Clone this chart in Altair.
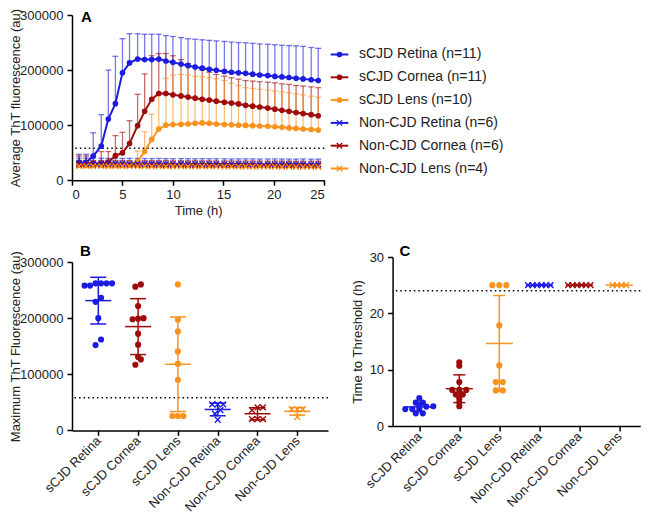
import altair as alt
import numpy as np
import pandas as pd

FONT = "Liberation Sans"
XPATH = "M-1,-1L1,1M-1,1L1,-1"

# ---------------- data ----------------
series_names = ["sCJD Retina", "sCJD Cornea", "sCJD Lens",
                "Non-CJD Retina", "Non-CJD Cornea", "Non-CJD Lens"]
series_n = [11, 11, 10, 6, 6, 4]
series_colors = ["#1c1ce0", "#9e0b0b", "#f7931e", "#1c1ce0", "#9e0b0b", "#f7931e"]
series_marker = ["circle", "circle", "circle", "x", "x", "x"]

threshold_au = 58000
threshold_h = 24

time_h = [0.7, 1.4, 2.1, 2.9, 3.6, 4.3, 5.0, 5.7, 6.5, 7.2, 7.9, 8.6, 9.3, 10.0,
          10.8, 11.5, 12.2, 12.9, 13.6, 14.3, 15.1, 15.8, 16.5, 17.2, 17.9, 18.6,
          19.4, 20.1, 20.8, 21.5, 22.2, 22.9, 23.7, 24.4]

mean_scjd_retina = [32000, 32000, 44000, 62000, 111000, 139000, 195000, 213000, 220000,
                    219000, 219000, 220000, 216500, 214000, 211000, 208000, 205500, 203500,
                    201500, 199500, 197500, 196000, 195000, 194000, 192500, 191000, 190000,
                    188500, 187500, 186500, 185000, 184000, 182500, 181000]
sd_scjd_retina = [15000, 15000, 42000, 57000, 89000, 86000, 62000, 53000, 46000, 46000,
                  46000, 45000, 46000, 47000, 48000, 49000, 50500, 51500, 52500, 53500,
                  54500, 55000, 55000, 55500, 56000, 56500, 57000, 57500, 57500, 58000,
                  59000, 59000, 58500, 58500]

mean_scjd_cornea = [30000, 30000, 30000, 30000, 33000, 44500, 49500, 66500, 99000, 125000,
                    147000, 157500, 157500, 155000, 153000, 151000, 149000, 147000, 145500,
                    143500, 141500, 140000, 138500, 136000, 134500, 133000, 131000, 129000,
                    127000, 125000, 123000, 121000, 119000, 117000]
sd_scjd_cornea = [14000, 14000, 14000, 22000, 19000, 36500, 37500, 41500, 57000, 68000,
                  79000, 72500, 72500, 71000, 66000, 61000, 57000, 53000, 50500, 48500,
                  47500, 46000, 45000, 45000, 45500, 46000, 47000, 48000, 48000, 49000,
                  49000, 50000, 50500, 51000]

mean_scjd_lens = [27000, 27000, 27000, 27000, 27000, 27000, 27000, 27500, 34000, 52000,
                  74000, 93000, 100000, 101000, 101500, 102000, 103500, 104000, 103500,
                  102000, 101000, 100500, 100000, 99500, 99000, 98500, 98000, 97000,
                  96000, 95000, 94000, 93000, 92000, 91000]
sd_scjd_lens = [6000, 6000, 6000, 6000, 6000, 6000, 6000, 6500, 19000, 36000, 46000,
                62000, 85000, 90000, 90500, 89000, 85000, 84000, 82500, 82000, 80000,
                75500, 72000, 68500, 67500, 66500, 65500, 65000, 64500, 64000, 63000,
                62000, 60500, 59500]

mean_nc_retina = [30500, 30800, 30600, 30400, 30300, 30500, 30200, 30000, 30100, 29900,
                  29800, 29900, 29700, 29600, 29800, 29500, 29400, 29600, 29500, 29300,
                  29400, 29200, 29300, 29100, 29200, 29000, 29100, 29000, 28900, 29000,
                  28800, 28900, 28700, 28800]
sd_nc_retina = [9500, 9400, 9600, 9500, 9300, 9500, 9400, 9600, 9500, 9400, 9500, 9600,
                9500, 9400, 9500, 9600, 9500, 9400, 9500, 9600, 9500, 9400, 9500, 9600,
                9500, 9400, 9500, 9600, 9500, 9400, 9500, 9600, 9500, 9400]

mean_nc_cornea = [27500, 27600, 27400, 27300, 27500, 27200, 27300, 27100, 27200, 27000,
                  27100, 26900, 27000, 26800, 26900, 26700, 26800, 26600, 26700, 26500,
                  26600, 26500, 26400, 26500, 26300, 26400, 26200, 26300, 26100, 26200,
                  26000, 26100, 25900, 26000]
sd_nc_cornea = [8500, 8600, 8400, 8500, 8600, 8500, 8400, 8500, 8600, 8500, 8400, 8500,
                8600, 8500, 8400, 8500, 8600, 8500, 8400, 8500, 8600, 8500, 8400, 8500,
                8600, 8500, 8400, 8500, 8600, 8500, 8400, 8500, 8600, 8500]

mean_nc_lens = [25500, 25600, 25400, 25500, 25300, 25400, 25200, 25300, 25100, 25200,
                25000, 25100, 24900, 25000, 24800, 24900, 24700, 24800, 24600, 24700,
                24500, 24600, 24400, 24500, 24300, 24400, 24200, 24300, 24100, 24200,
                24000, 24100, 23900, 24000]
sd_nc_lens = [7000, 7100, 6900, 7000, 7100, 7000, 6900, 7000, 7100, 7000, 6900, 7000,
              7100, 7000, 6900, 7000, 7100, 7000, 6900, 7000, 7100, 7000, 6900, 7000,
              7100, 7000, 6900, 7000, 7100, 7000, 6900, 7000, 7100, 7000]

# Panel B: maximum ThT fluorescence per sample
max_scjd_retina = [262000, 262000, 262000, 262000, 258000, 258000, 236000, 229000, 200000, 162000, 152000]
max_scjd_cornea = [260000, 256000, 221600, 200000, 199000, 198000, 172300, 152700, 130700, 126500, 117000]
max_scjd_lens = [260000, 197200, 176400, 140700, 118800, 90300, 25600, 25600, 25600]
max_nc_retina = [46300, 46300, 46300, 36000, 30000, 19000]
max_nc_cornea = [41000, 41000, 36000, 20000, 20000, 20000]
max_nc_lens = [37400, 37400, 37400, 23800]

# Panel C: time to threshold (h)
tt_scjd_retina = [4.97, 4.14, 4.14, 3.55, 3.5, 3.45, 3.0, 3.0, 3.0, 2.25, 2.25]
tt_scjd_cornea = [11.3, 10.7, 7.8, 6.4, 6.4, 6.4, 5.6, 5.6, 4.9, 4.2, 3.5]
tt_scjd_lens = [25, 25, 25, 17.86, 10.76, 7.8, 7.8, 6.32, 6.32]
tt_nc_retina = [25, 25, 25, 25, 25, 25]
tt_nc_cornea = [25, 25, 25, 25, 25, 25]
tt_nc_lens = [25, 25, 25, 25]

# ---------------- helpers ----------------
color = alt.Color("series:N", scale=alt.Scale(domain=series_names, range=series_colors), legend=None)


def spread(values, px_per_unit, tol_px, gap_px):
    order = sorted(range(len(values)), key=lambda i: values[i])
    clusters = []
    for i in order:
        if clusters and (values[i] - values[clusters[-1][0]]) * px_per_unit < tol_px:
            clusters[-1].append(i)
        else:
            clusters.append([i])
    offs = [0.0] * len(values)
    for c in clusters:
        m = len(c)
        for k, i in enumerate(c):
            offs[i] = (k - (m - 1) / 2) * gap_px
    return offs


# ---------------- panel A ----------------
A_means = [mean_scjd_retina, mean_scjd_cornea, mean_scjd_lens, mean_nc_retina, mean_nc_cornea, mean_nc_lens]
A_sds = [sd_scjd_retina, sd_scjd_cornea, sd_scjd_lens, sd_nc_retina, sd_nc_cornea, sd_nc_lens]
rows = []
for name, mk, means, sds in zip(series_names, series_marker, A_means, A_sds):
    for t, m, s in zip(time_h, means, sds):
        rows.append(dict(series=name, marker=mk, t=t, mean=m, upper=m + s))
dfA = pd.DataFrame(rows)

A_W, A_H = 252.3, 165.2
xA_scale = alt.Scale(domain=[0, 25], nice=False)
xA_axis = alt.Axis(values=[0, 5, 10, 15, 20, 25], title="Time (h)", titlePadding=3, labelPadding=3)
yA_scale = alt.Scale(domain=[0, 300000], nice=False)
yA_axis = alt.Axis(values=[0, 100000, 200000, 300000], format="d",
                   title="Average ThT fluorescence (au)", titleX=-50)


def xa(f):
    return alt.X(f, scale=xA_scale, axis=xA_axis)


def ya(f):
    return alt.Y(f, scale=yA_scale, axis=yA_axis)


baseA = alt.Chart(dfA)
thrA = alt.Chart(pd.DataFrame({"thr": [threshold_au]})).mark_rule(
    color="black", strokeDash=[1.5, 3], strokeWidth=1.5).encode(y=ya("thr:Q"))
errA = baseA.mark_rule(strokeWidth=1.3, opacity=0.6).encode(
    x=xa("t:Q"), y=ya("mean:Q"), y2="upper:Q", color=color)
capA = baseA.mark_tick(orient="horizontal", size=6, thickness=1.3, opacity=0.6).encode(
    x=xa("t:Q"), y=ya("upper:Q"), color=color)
lineA = baseA.mark_line(strokeWidth=2).encode(x=xa("t:Q"), y=ya("mean:Q"), color=color)
ptcA = baseA.transform_filter(alt.datum.marker == "circle").mark_point(
    filled=True, size=32, opacity=1).encode(x=xa("t:Q"), y=ya("mean:Q"), color=color)
ptxA = baseA.transform_filter(alt.datum.marker == "x").mark_point(
    shape=XPATH, filled=False, size=30, strokeWidth=1.3, opacity=1).encode(
    x=xa("t:Q"), y=ya("mean:Q"), color=color)
labA = alt.Chart(pd.DataFrame({"lab": ["A"]})).mark_text(
    font=FONT, fontSize=15, fontWeight="bold", align="left", baseline="middle", color="black").encode(
    text="lab:N", x=alt.value(9), y=alt.value(2))
panelA = alt.layer(thrA, errA, capA, lineA, ptcA, ptxA, labA).properties(width=A_W, height=A_H)

# legend drawn as its own small view
dfL = pd.DataFrame({
    "idx": list(range(len(series_names))),
    "series": series_names,
    "marker": series_marker,
    "label": [f"{s} (n={n})" for s, n in zip(series_names, series_n)],
})
yL = alt.Y("idx:Q", scale=alt.Scale(domain=[-1.732, 5.513], reverse=True, nice=False, zero=False), axis=None)
baseL = alt.Chart(dfL)
legLine = baseL.mark_rule(strokeWidth=2).encode(x=alt.value(0.7), x2=alt.value(18.3), y=yL, color=color)
legC = baseL.transform_filter(alt.datum.marker == "circle").mark_point(
    filled=True, size=32, opacity=1).encode(x=alt.value(9.5), y=yL, color=color)
legX = baseL.transform_filter(alt.datum.marker == "x").mark_point(
    shape=XPATH, filled=False, size=30, strokeWidth=1.3, opacity=1).encode(x=alt.value(9.5), y=yL, color=color)
legT = baseL.mark_text(font=FONT, fontSize=14, align="left", baseline="middle", color="#222").encode(
    x=alt.value(29), y=yL, text="label:N")
legend = alt.layer(legLine, legC, legX, legT).properties(width=170, height=A_H)


# ---------------- panels B and C ----------------
def scatter_panel(groups, y_title, title_x, y_domain, y_ticks, y_range, height, width, first_px, step_px,
                  tol_px, gap_c, gap_x, mean_hw, cap_hw, thr, letter, letter_x):
    x_dom = [-first_px / step_px, (width - first_px) / step_px]
    ppu = (y_range[0] - y_range[1]) / (y_domain[1] - y_domain[0])
    pts, stats = [], []
    for i, (name, vals, mk) in enumerate(zip(series_names, groups, series_marker)):
        offs = spread(vals, ppu, tol_px, gap_c if mk == "circle" else gap_x)
        for v, o in zip(vals, offs):
            pts.append(dict(series=name, marker=mk, value=v, xpos=i + o / step_px))
        m = float(np.mean(vals))
        s = float(np.std(vals, ddof=1))
        stats.append(dict(series=name, idx=i, mean=m, lo=m - s, hi=m + s,
                          xl=i - mean_hw / step_px, xr=i + mean_hw / step_px,
                          cl=i - cap_hw / step_px, cr=i + cap_hw / step_px))
    dpts = pd.DataFrame(pts)
    dst = pd.DataFrame(stats)
    label_js = "[" + ",".join("'" + s + "'" for s in series_names) + "][datum.value]"
    xs = alt.Scale(domain=x_dom, nice=False, zero=False)
    xax = alt.Axis(values=list(range(len(series_names))), labelExpr=label_js, title=None,
                   labelAngle=-45, labelAlign="right", labelBaseline="middle", labelPadding=3,
                   labelOverlap=False)
    ys = alt.Scale(domain=y_domain, range=list(y_range), nice=False, zero=False)
    yax = alt.Axis(values=y_ticks, format="d", title=y_title, titleX=title_x)

    def xx(f):
        return alt.X(f, scale=xs, axis=xax)

    def yy(f):
        return alt.Y(f, scale=ys, axis=yax)

    thrl = alt.Chart(pd.DataFrame({"thr": [thr]})).mark_rule(
        color="black", strokeDash=[1.5, 3], strokeWidth=1.5).encode(y=yy("thr:Q"))
    bs = alt.Chart(dst)
    sdl = bs.mark_rule(strokeWidth=1.5).encode(x=xx("idx:Q"), y=yy("lo:Q"), y2="hi:Q", color=color)
    caphi = bs.mark_rule(strokeWidth=1.5).encode(x=xx("cl:Q"), x2="cr:Q", y=yy("hi:Q"), color=color)
    caplo = bs.mark_rule(strokeWidth=1.5).encode(x=xx("cl:Q"), x2="cr:Q", y=yy("lo:Q"), color=color)
    meanl = bs.mark_rule(strokeWidth=1.5).encode(x=xx("xl:Q"), x2="xr:Q", y=yy("mean:Q"), color=color)
    bp = alt.Chart(dpts)
    pc = bp.transform_filter(alt.datum.marker == "circle").mark_point(
        filled=True, size=38, opacity=1).encode(x=xx("xpos:Q"), y=yy("value:Q"), color=color)
    px = bp.transform_filter(alt.datum.marker == "x").mark_point(
        shape=XPATH, filled=False, size=34, strokeWidth=1.4, opacity=1).encode(
        x=xx("xpos:Q"), y=yy("value:Q"), color=color)
    lab = alt.Chart(pd.DataFrame({"lab": [letter]})).mark_text(
        font=FONT, fontSize=15, fontWeight="bold", align="left", baseline="middle", color="black").encode(
        text="lab:N", x=alt.value(letter_x), y=alt.value(-6))
    return alt.layer(thrl, pc, px, sdl, caphi, caplo, meanl, lab).properties(width=width, height=height)


panelB = scatter_panel(
    [max_scjd_retina, max_scjd_cornea, max_scjd_lens, max_nc_retina, max_nc_cornea, max_nc_lens],
    "Maximum ThT Fluorescence (au)", -50, [0, 300000], [0, 100000, 200000, 300000],
    (173.4, 5), 173.4, 256, 26.3, 39.8, 6, 5.5, 5.5, 13, 8, threshold_au, "B", 8)

panelC = scatter_panel(
    [tt_scjd_retina, tt_scjd_cornea, tt_scjd_lens, tt_nc_retina, tt_nc_cornea, tt_nc_lens],
    "Time to Threshold (h)", -28, [0, 30], [0, 10, 20, 30],
    (169, 0), 169, 247.7, 26.7, 40, 3, 7, 4.5, 13.5, 6, threshold_h, "C", 7)

top = alt.hconcat(panelA, legend, spacing=5, bounds="flush")
bottom = alt.hconcat(panelB, panelC, spacing=64.6, bounds="flush")

chart = alt.vconcat(top, bottom, spacing=26).properties(
    padding=0, background="white"
).configure_view(stroke=None).configure_axis(
    domainColor="black", domainWidth=1.5, tickColor="black", tickWidth=1.5, tickSize=5,
    labelFont=FONT, labelFontSize=13, labelColor="#222", titleFont=FONT, titleFontSize=13,
    titleFontWeight="normal", titleColor="#222", grid=False, labelPadding=4
)

chart.save("out.html", embed_options={"renderer": "svg", "actions": False})
